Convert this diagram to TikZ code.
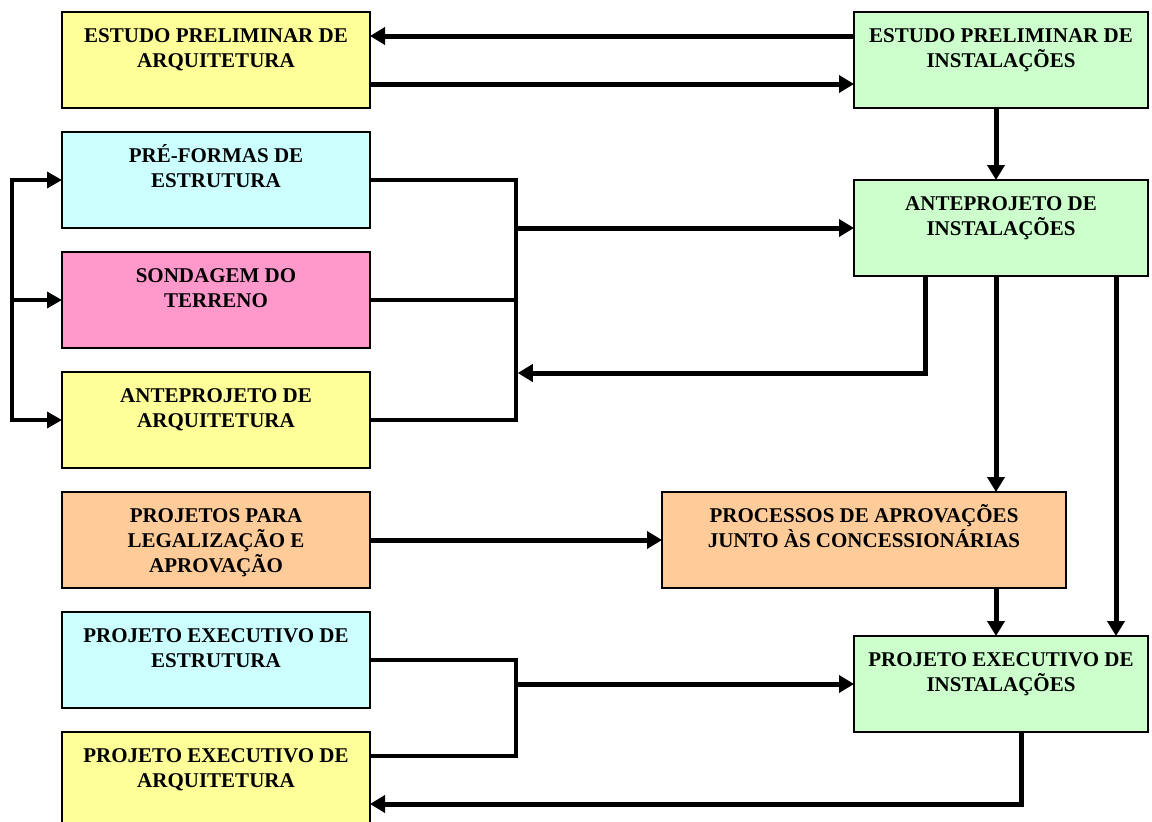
\documentclass[tikz,border=0pt]{standalone}
\usepackage{fontspec}
\setmainfont{Liberation Serif}
\usetikzlibrary{arrows.meta,calc}

% text block of a box: first baseline 30pt below the top edge
\newcommand\bxt[2]{\parbox[c][96pt][t]{#1}{\centering\rule{0pt}{30pt}#2}}

\definecolor{cyel}{HTML}{FFFF99}
\definecolor{cgrn}{HTML}{CCFFCC}
\definecolor{ccya}{HTML}{CCFFFF}
\definecolor{cpnk}{HTML}{FF99CC}
\definecolor{corg}{HTML}{FFCC99}

\tikzset{
  stage/.style={draw=black, line width=1.5pt, inner sep=0pt, outer sep=0pt,
    font=\fontsize{21}{25}\selectfont\bfseries},
  arr/.style={line width=5pt, -{Triangle[length=15pt,width=17pt]}},
  conn/.style={line width=3.5pt},
  conntip/.style={line width=3.5pt, -{Triangle[length=15pt,width=16pt]}}
}

\begin{document}
\begin{tikzpicture}[x=1pt, y=-1pt]
\useasboundingbox (0,0) rectangle (1152,822);
\clip (0,0) rectangle (1152,822);

% stages
\node[stage, fill=cyel] (epa) at (216,60)  {\bxt{308pt}{ESTUDO PRELIMINAR DE\\ARQUITETURA}};
\node[stage, fill=cgrn] (epi) at (1001,60) {\bxt{294pt}{ESTUDO PRELIMINAR DE\\INSTALAÇÕES}};
\node[stage, fill=ccya] (pfe) at (216,180) {\bxt{308pt}{PRÉ-FORMAS DE\\ESTRUTURA}};
\node[stage, fill=cpnk] (sdt) at (216,300) {\bxt{308pt}{SONDAGEM DO\\TERRENO}};
\node[stage, fill=cyel] (apa) at (216,420) {\bxt{308pt}{ANTEPROJETO DE\\ARQUITETURA}};
\node[stage, fill=cgrn] (api) at (1001,228) {\bxt{294pt}{ANTEPROJETO DE\\INSTALAÇÕES}};
\node[stage, fill=corg] (pla) at (216,540) {\bxt{308pt}{PROJETOS PARA\\LEGALIZAÇÃO E\\APROVAÇÃO}};
\node[stage, fill=corg] (pac) at (864,540) {\bxt{404pt}{PROCESSOS DE APROVAÇÕES\\JUNTO ÀS CONCESSIONÁRIAS}};
\node[stage, fill=ccya] (pee) at (216,660) {\bxt{308pt}{PROJETO EXECUTIVO DE\\ESTRUTURA}};
\node[stage, fill=cyel] (pea) at (216,780) {\bxt{308pt}{PROJETO EXECUTIVO DE\\ARQUITETURA}};
\node[stage, fill=cgrn] (pei) at (1001,684) {\bxt{294pt}{PROJETO EXECUTIVO DE\\INSTALAÇÕES}};

% routing columns and helper points
\coordinate (L)  at (12,0);
\coordinate (R)  at (516,0);
\coordinate (Rr) at (517.75,0);
\coordinate (xa) at (925,0);
\coordinate (xb) at (996,0);
\coordinate (xc) at (1116,0);
\coordinate (xd) at (1021,0);
\coordinate (fb) at (925,373);
\coordinate (epa-hi) at ([yshift=24pt]epa.east);
\coordinate (epa-lo) at ([yshift=-24pt]epa.east);
\coordinate (epi-hi) at ([yshift=24pt]epi.west);
\coordinate (epi-lo) at ([yshift=-24pt]epi.west);
\coordinate (pea-hi) at ([yshift=24pt]pea.east);
\coordinate (pea-lo) at ([yshift=-24pt]pea.east);

% preliminary studies
\draw[arr] (epi-hi) -- (epa-hi);
\draw[arr] (epa-lo) -- (epi-lo);
\draw[arr] (epi.south -| xb) -- (api.north -| xb);

% left distribution bus
\draw[line width=3.5pt, {Triangle[length=15pt,width=16pt]}-{Triangle[length=15pt,width=16pt]}]
  (pfe.west) -- (L |- pfe.west) -- (L |- apa.west) -- (apa.west);
\draw[conntip] (L |- sdt.west) -- (sdt.west);

% right collecting bus
\draw[conn] (pfe.east) -- (R |- pfe.east) -- (R |- apa.east) -- (apa.east);
\draw[conn] (sdt.east) -- (R |- sdt.east);
\draw[arr] (R |- api.west) -- (api.west);
\draw[arr] (api.south -| xa) -- (fb) -- (Rr |- fb);

% approvals
\draw[arr] (api.south -| xb) -- (pac.north -| xb);
\draw[arr] (api.south -| xc) -- (pei.north -| xc);
\draw[arr] (pla.east) -- (pac.west);
\draw[arr] (pac.south -| xb) -- (pei.north -| xb);

% executive projects
\draw[conn] (pee.east) -- (R |- pee.east) -- (R |- pea-hi) -- (pea-hi);
\draw[arr] (R |- pei.west) -- (pei.west);
\draw[arr] (pei.south -| xd) -- (xd |- pea-lo) -- (pea-lo);
\end{tikzpicture}
\end{document}
